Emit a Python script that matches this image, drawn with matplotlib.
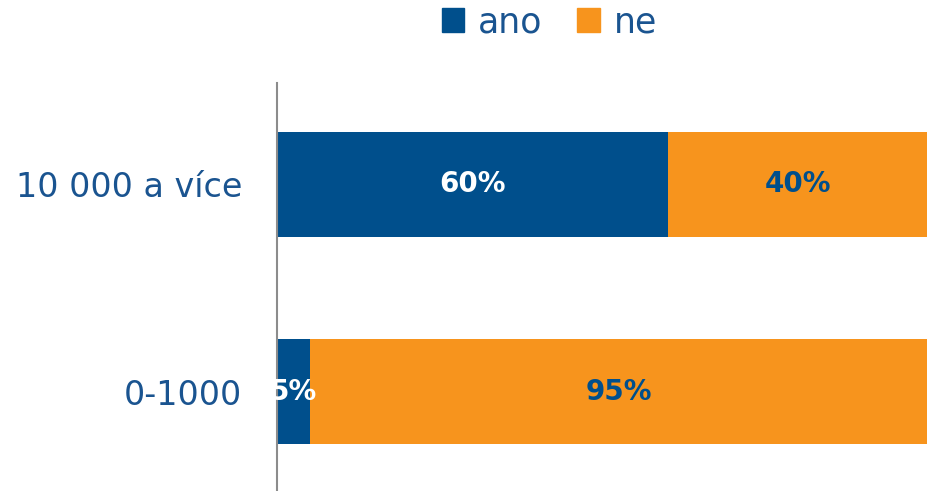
import matplotlib.pyplot as plt
from matplotlib.patches import Patch

categories = ["0-1000", "10 000 a více"]
ano = [5, 60]
ne = [95, 40]

blue = "#004F8C"
orange = "#F7941D"
text_blue = "#1A5490"

plt.rcParams['font.family'] = ['DejaVu Sans']

fig = plt.figure(figsize=(9.28, 4.91), dpi=100)
ax = fig.add_axes([277 / 928, 0, 1 - 277 / 928, (491 - 83) / 491])

y = range(len(categories))
ax.barh(y, ano, height=0.51, color=blue)
ax.barh(y, ne, left=ano, height=0.51, color=orange)

for i in y:
    ax.text(ano[i] / 2, i, f"{ano[i]}%", ha="center", va="center",
            color="white", fontsize=20, fontweight="bold")
    ax.text(ano[i] + ne[i] / 2, i, f"{ne[i]}%", ha="center", va="center",
            color=blue, fontsize=20, fontweight="bold")

ax.set_xlim(0, 100)
ax.set_ylim(-0.48, 1.49)
ax.set_yticks(list(y))
ax.set_yticklabels(categories, fontsize=24, color=text_blue)
ax.tick_params(axis="y", length=0, pad=25)
ax.set_xticks([])
for s in ["top", "right", "bottom"]:
    ax.spines[s].set_visible(False)
ax.spines["left"].set_color("#8C8C8C")
ax.spines["left"].set_linewidth(1.5)

handles = [Patch(color=blue, label="ano"), Patch(color=orange, label="ne")]
fig.legend(handles=handles, loc="upper center", bbox_to_anchor=(0.592, 1.053), ncol=2,
           frameon=False, fontsize=25, labelcolor=text_blue, handlelength=0.65,
           handleheight=0.65, handletextpad=0.4, columnspacing=1.0)

fig.savefig("out.png", dpi=100)
